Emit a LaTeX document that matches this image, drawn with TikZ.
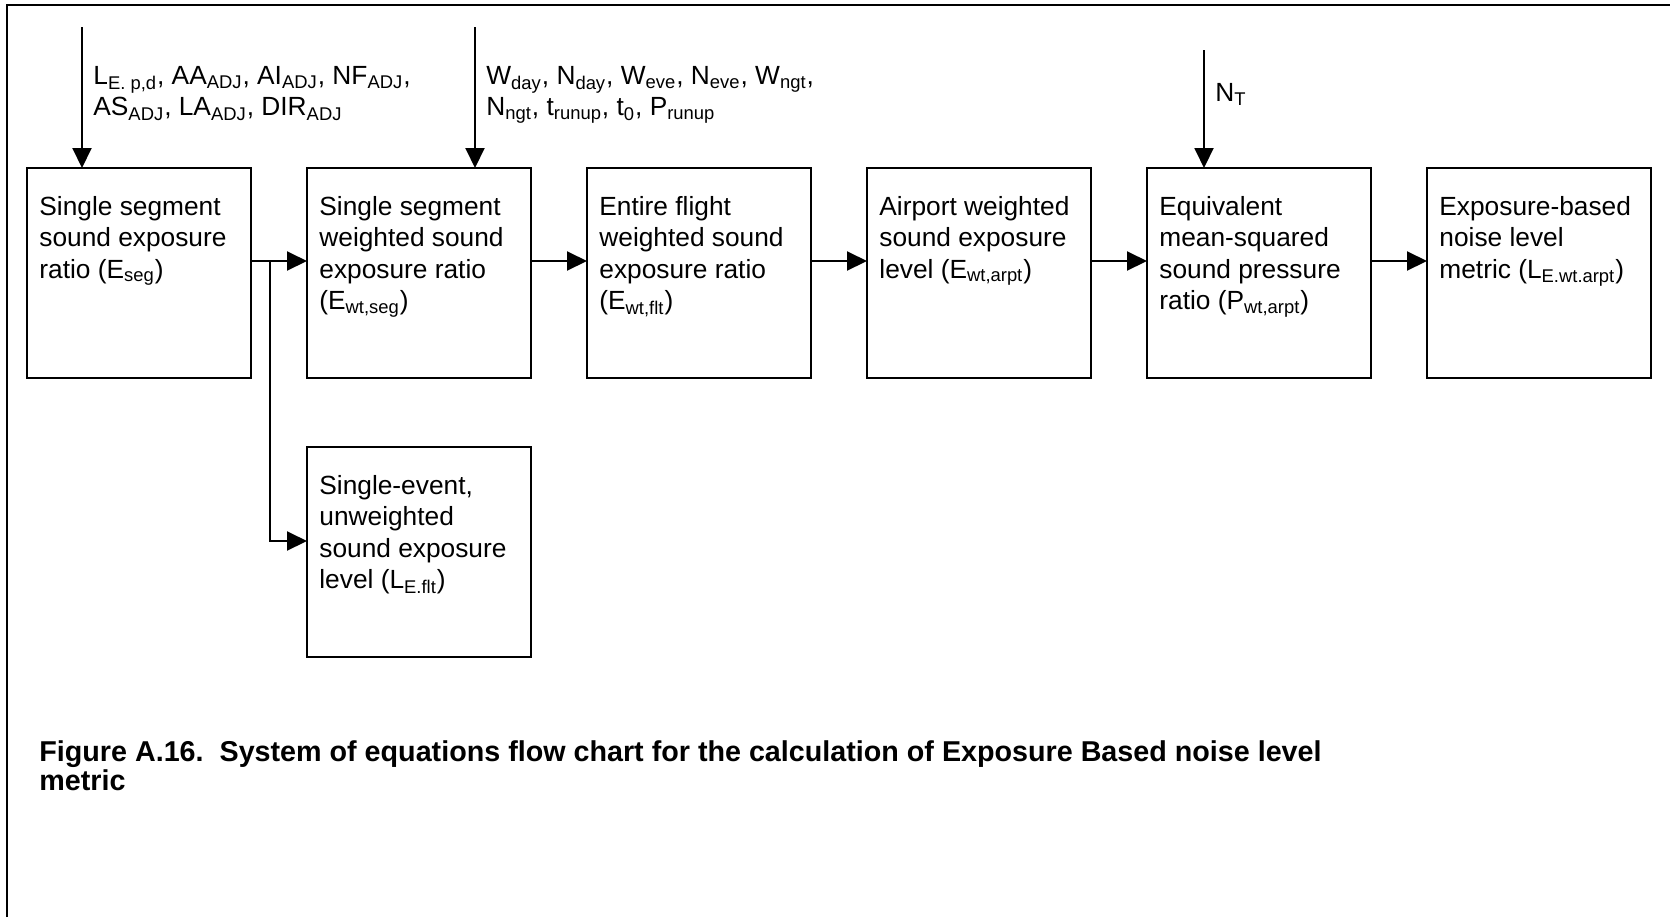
\documentclass[tikz,border=0pt]{standalone}
\usepackage{fontspec}
\setmainfont{Liberation Sans}
\usetikzlibrary{arrows.meta,calc}
\newcommand\sbs[1]{\textsubscript{#1}}
\begin{document}
\begin{tikzpicture}[x=0.5pt,y=-0.5pt,
 box/.style={draw,line width=1pt,minimum width=112pt,minimum height=105pt,inner sep=0pt,outer sep=0pt},
 txt/.style={anchor=north west,inner sep=0pt,align=left,font=\fontsize{13.15}{15.65}\selectfont},
 captxt/.style={anchor=north west,inner sep=0pt,align=left,font=\fontsize{14.35}{14.6}\selectfont\bfseries},
 arr/.style={line width=1pt,-{Triangle[length=10pt,width=9.5pt]}},
 ln/.style={line width=1pt}]
\useasboundingbox (0,0) rectangle (1670,917);
% frame
\draw[line width=1.2pt] (7,917) -- (7,5) -- (1670,5);
% boxes
\node[box] (b1) at (139,273) {};
\node[box] (b2) at (419,273) {};
\node[box] (b3) at (699,273) {};
\node[box] (b4) at (979,273) {};
\node[box] (b5) at (1259,273) {};
\node[box] (b6) at (1539,273) {};
\node[box] (b7) at (419,552) {};
% box texts
\node[txt] (t1) at ($(b1.north west)+(12,28)$) {Single segment\\sound exposure\\ratio (E\sbs{seg})};
\node[txt] (t2) at ($(b2.north west)+(12,28)$) {Single segment\\weighted sound\\exposure ratio\\(E\sbs{wt,seg})};
\node[txt] (t3) at ($(b3.north west)+(12,28)$) {Entire flight\\weighted sound\\exposure ratio\\(E\sbs{wt,flt})};
\node[txt] (t4) at ($(b4.north west)+(12,28)$) {Airport weighted\\sound exposure\\level (E\sbs{wt,arpt})};
\node[txt] (t5) at ($(b5.north west)+(12,28)$) {Equivalent\\mean-squared\\sound pressure\\ratio (P\sbs{wt,arpt})};
\node[txt] (t6) at ($(b6.north west)+(12,28)$) {Exposure-based\\noise level\\metric (L\sbs{E.wt.arpt})};
\node[txt] (t7) at ($(b7.north west)+(12,28)$) {Single-event,\\unweighted\\sound exposure\\level (L\sbs{E.flt})};
% input labels
\node[txt] (l1) at (93,66) {L\sbs{E. p,d}, AA\sbs{ADJ}, AI\sbs{ADJ}, NF\sbs{ADJ},\\AS\sbs{ADJ}, LA\sbs{ADJ}, DIR\sbs{ADJ}};
\node[txt] (l2) at (486,66) {W\sbs{day}, N\sbs{day}, W\sbs{eve}, N\sbs{eve}, W\sbs{ngt},\\N\sbs{ngt}, t\sbs{runup}, t\sbs{0}, P\sbs{runup}};
\node[txt] (l3) at (1215,83) {N\sbs{T}};
% input arrows
\coordinate (i1) at (82,27);
\coordinate (i2) at (475,27);
\coordinate (i3) at (1204,50);
\draw[arr] (i1) -- (i1 |- b1.north);
\draw[arr] (i2) -- (i2 |- b2.north);
\draw[arr] (i3) -- (i3 |- b5.north);
% horizontal arrows
\draw[arr] ($(b1.north east)+(0,93)$) -- ($(b2.north west)+(0,93)$);
\draw[arr] ($(b2.north east)+(0,93)$) -- ($(b3.north west)+(0,93)$);
\draw[arr] ($(b3.north east)+(0,93)$) -- ($(b4.north west)+(0,93)$);
\draw[arr] ($(b4.north east)+(0,93)$) -- ($(b5.north west)+(0,93)$);
\draw[arr] ($(b5.north east)+(0,93)$) -- ($(b6.north west)+(0,93)$);
% branch to single-event box
\coordinate (j) at ($(b1.north east)+(19,93)$);
\draw[arr] (j) |- ($(b7.north west)+(0,94)$);
% caption
\node[captxt] (c) at (39,740) {Figure A.16.\ \ System of equations flow chart for the calculation of Exposure Based noise level\\metric};
\end{tikzpicture}
\end{document}
